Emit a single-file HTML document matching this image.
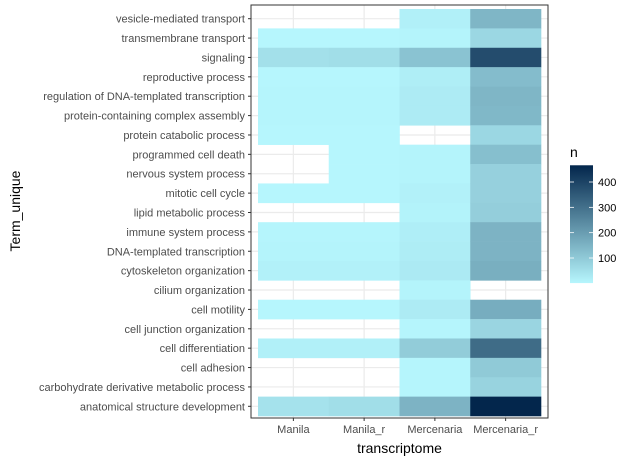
<!DOCTYPE html>
<html><head><meta charset="utf-8"><style>
body{margin:0;background:#fff;font-family:"Liberation Sans",sans-serif}
</style></head><body>
<svg id="chart" width="635" height="460" xmlns="http://www.w3.org/2000/svg" font-family="Liberation Sans, sans-serif">
<rect width="635" height="460" fill="#fff"/>
<g id="grid"></g><g id="cells"></g><g id="axes"></g><g id="legend"></g>
</svg>
<script>
const columns = ["Manila","Manila_r","Mercenaria","Mercenaria_r"];
const terms = ["vesicle-mediated transport","transmembrane transport","signaling","reproductive process","regulation of DNA-templated transcription","protein-containing complex assembly","protein catabolic process","programmed cell death","nervous system process","mitotic cell cycle","lipid metabolic process","immune system process","DNA-templated transcription","cytoskeleton organization","cilium organization","cell motility","cell junction organization","cell differentiation","cell adhesion","carbohydrate derivative metabolic process","anatomical structure development"];
const valManila   = [null,2,50,2,3,3,2,null,null,2,null,3,5,12,null,2,null,15,null,null,45];
const valManilaR  = [null,2,55,2,3,3,2,2,2,2,null,3,5,12,null,2,null,15,null,null,55];
const valMerc     = [15,5,115,20,25,25,null,6,6,12,8,18,22,28,6,25,4,95,4,4,150];
const valMercR    = [145,70,380,130,145,140,70,125,85,85,90,150,150,160,null,165,75,310,100,80,466];
const legendTicks = [100,200,300,400];
const series = [valManila,valManilaR,valMerc,valMercR];
const vmin = 1, vmax = 466;
const NS="http://www.w3.org/2000/svg";
const px0=251, px1=548, py0=5, py1=418;
const colW=(px1-px0-14)/columns.length, rowH=(416-9)/terms.length;
function xPos(i){return 258+colW*(i+0.5);}
function yPos(j){return 9+rowH*(j+0.5);}
const lo=[182,246,253], hi=[3,38,76];
function color(v){const f=Math.max(0,Math.min(1,(v-vmin)/(vmax-vmin)));return "rgb("+lo.map((c,k)=>Math.round(c+(hi[k]-c)*f)).join(",")+")";}
function mk(tag,attrs,parent){const e=document.createElementNS(NS,tag);for(const k in attrs)e.setAttribute(k,attrs[k]);parent.appendChild(e);return e;}
const grid=document.getElementById("grid"),cells=document.getElementById("cells"),axes=document.getElementById("axes"),leg=document.getElementById("legend");
mk("rect",{x:px0,y:py0,width:px1-px0,height:py1-py0,fill:"#fff"},grid);
columns.forEach((c,i)=>{const l=mk("line",{x1:xPos(i),x2:xPos(i),y1:py0,y2:py1,stroke:"#ebebeb","stroke-width":1.2},grid);

});
terms.forEach((t,j)=>{const l=mk("line",{x1:px0,x2:px1,y1:yPos(j),y2:yPos(j),stroke:"#ebebeb","stroke-width":1.2},grid);

});
series.forEach((s,i)=>{s.forEach((v,j)=>{if(v===null)return;
const r=mk("rect",{x:xPos(i)-colW/2,y:yPos(j)-rowH/2,width:colW+0.3,height:rowH+0.3,fill:color(v)},cells);

});});
const border=mk("rect",{x:px0,y:py0,width:px1-px0,height:py1-py0,fill:"none",stroke:"#333","stroke-width":1},axes);


terms.forEach((t,j)=>{mk("line",{x1:px0-3,x2:px0,y1:yPos(j),y2:yPos(j),stroke:"#333"},axes);
const tx=mk("text",{x:px0-6,y:yPos(j)+4,"text-anchor":"end","font-size":"11","fill":"#4d4d4d"},axes);tx.textContent=t;

});
columns.forEach((c,i)=>{mk("line",{x1:xPos(i),x2:xPos(i),y1:py1,y2:py1+3,stroke:"#333"},axes);
const tx=mk("text",{x:xPos(i),y:py1+15,"text-anchor":"middle","font-size":"11","fill":"#4d4d4d"},axes);tx.textContent=c;

});
const xt=mk("text",{x:(px0+px1)/2,y:453,"text-anchor":"middle","font-size":"14","fill":"#000"},axes);xt.textContent="transcriptome";


const yt=mk("text",{x:0,y:0,transform:"translate(20,211) rotate(-90)","text-anchor":"middle","font-size":"14","fill":"#000"},axes);yt.textContent="Term_unique";


// legend
const lx=570,lw=23,ly0=165,ly1=281;
function ly(v){return 258-(v-100)*(258-182)/300;}
const defs=mk("defs",{},leg);const g=mk("linearGradient",{id:"grad",x1:0,y1:1,x2:0,y2:0},defs);
const yTop=ly(vmax),yBot=ly(vmin);
mk("stop",{offset:0,"stop-color":color(vmin)},g);mk("stop",{offset:1,"stop-color":color(vmax)},g);
const bar=mk("rect",{x:lx,y:yTop,width:lw,height:yBot-yTop,fill:"url(#grad)"},leg);


legendTicks.forEach(v=>{const y=ly(v);
mk("line",{x1:lx,x2:lx+4,y1:y,y2:y,stroke:"#fff","stroke-width":0.8},leg);
mk("line",{x1:lx+lw-4,x2:lx+lw,y1:y,y2:y,stroke:"#fff","stroke-width":0.8},leg);
const tx=mk("text",{x:lx+lw+5,y:y+4,"font-size":"11","fill":"#000"},leg);tx.textContent=v;

});
const lt=mk("text",{x:lx,y:157,"font-size":"14","fill":"#000"},leg);lt.textContent="n";


</script>
</body></html>
